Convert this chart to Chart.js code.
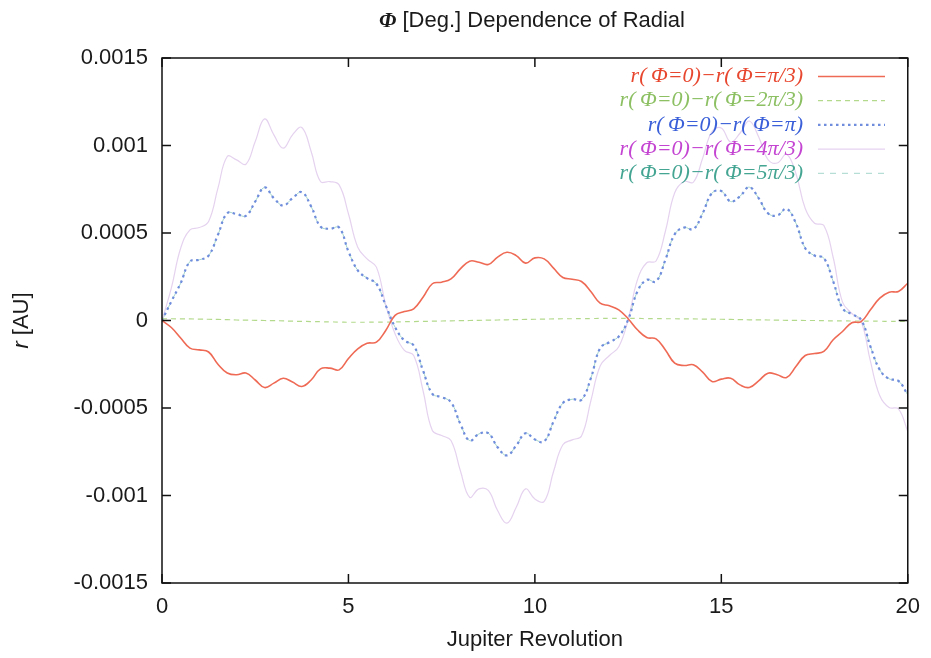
<!DOCTYPE html>
<html>
<head>
<meta charset="utf-8">
<title>Phi dependence of radial</title>
<script src="https://cdn.jsdelivr.net/npm/chart.js@4.4.1/dist/chart.umd.min.js"></script>
<style>
  body { margin: 0; background: #fff; }
  #wrap { width: 931px; height: 658px; }
</style>
</head>
<body>
<div id="wrap"><canvas id="radialChart" width="931" height="658"></canvas></div>
<script>
// Jupiter revolutions (x)
const revolutions = [
    0, 0.25, 0.5, 0.75, 1, 1.25, 1.5, 1.75, 2, 2.25, 2.5, 2.75, 3, 3.25, 3.5, 3.75,
    4, 4.25, 4.5, 4.75, 5, 5.25, 5.5, 5.75, 6, 6.25, 6.5, 6.75, 7, 7.25, 7.5, 7.75,
    8, 8.25, 8.5, 8.75, 9, 9.25, 9.5, 9.75, 10, 10.25, 10.5, 10.75, 11, 11.25, 11.5, 11.75,
    12, 12.25, 12.5, 12.75, 13, 13.25, 13.5, 13.75, 14, 14.25, 14.5, 14.75, 15, 15.25, 15.5, 15.75,
    16, 16.25, 16.5, 16.75, 17, 17.25, 17.5, 17.75, 18, 18.25, 18.5, 18.75, 19, 19.25, 19.5, 19.75, 20
];

const xTicks = [0, 5, 10, 15, 20];
const yTicks = [-0.0015, -0.001, -0.0005, 0, 0.0005, 0.001, 0.0015];
const yTickLabels = ['-0.0015', '-0.001', '-0.0005', '0', '0.0005', '0.001', '0.0015'];

const seriesLabels = [
    'r(\u2009\u03A6=0)\u2212r(\u2009\u03A6=\u03C0/3)',
    'r(\u2009\u03A6=0)\u2212r(\u2009\u03A6=2\u03C0/3)',
    'r(\u2009\u03A6=0)\u2212r(\u2009\u03A6=\u03C0)',
    'r(\u2009\u03A6=0)\u2212r(\u2009\u03A6=4\u03C0/3)',
    'r(\u2009\u03A6=0)\u2212r(\u2009\u03A6=5\u03C0/3)'
];

// r differences [AU]
const diffPi3 = [
    0, -0.00004, -0.0001, -0.000158,
    -0.000168, -0.00018, -0.00025, -0.0003,
    -0.00031, -0.0003, -0.00034, -0.000383,
    -0.000358, -0.00033, -0.000352, -0.000377,
    -0.00034, -0.000276, -0.000272, -0.000282,
    -0.000217, -0.000162, -0.00013, -0.000124,
    -0.000057, 0.000029, 0.000051, 0.000067,
    0.000133, 0.00021, 0.000219, 0.000238,
    0.000295, 0.000339, 0.000333, 0.00032,
    0.000362, 0.00039, 0.000371, 0.000328,
    0.000358, 0.000352, 0.000299, 0.000246,
    0.000236, 0.000223, 0.000166, 0.000099,
    0.000084, 0.000061, 0.00001, -0.000053,
    -0.000097, -0.000105, -0.000168, -0.000244,
    -0.000257, -0.000253, -0.000295, -0.000349,
    -0.000335, -0.00033, -0.000368, -0.000383,
    -0.000345, -0.000301, -0.00031, -0.000326,
    -0.000263, -0.0002, -0.000189, -0.000177,
    -0.00011, -0.000063, -0.000013, -0.000006,
    0.000061, 0.000128, 0.000162, 0.000166,
    0.000213
];

const diff2Pi3 = [
    0.00001, 0.00001, 0.000009, 0.000009,
    0.000008, 0.000007, 0.000006, 0.000005,
    0.000003, 0.000002, 0.000001, 0,
    -0.000001, -0.000002, -0.000004, -0.000005,
    -0.000006, -0.000007, -0.000008, -0.000009,
    -0.00001, -0.00001, -0.00001, -0.000009,
    -0.000009, -0.000008, -0.000007, -0.000006,
    -0.000005, -0.000004, -0.000003, -0.000002,
    -0.000001, 0, 0.000001, 0.000002,
    0.000003, 0.000004, 0.000005, 0.000006,
    0.000007, 0.000008, 0.000009, 0.00001,
    0.00001, 0.000011, 0.000011, 0.000012,
    0.000012, 0.000012, 0.000012, 0.000012,
    0.000011, 0.000011, 0.00001, 0.00001,
    0.000009, 0.000009, 0.000008, 0.000008,
    0.000007, 0.000006, 0.000005, 0.000004,
    0.000004, 0.000003, 0.000002, 0.000001,
    0.000001, 0, 0, -0.000001,
    -0.000002, -0.000002, -0.000003, -0.000003,
    -0.000004, -0.000004, -0.000005, -0.000005,
    -0.000006
];

const diffPi = [
    0, 0.000109, 0.000213, 0.000337,
    0.000347, 0.000371, 0.00049, 0.000613,
    0.000608, 0.000598, 0.00068, 0.00076,
    0.000699, 0.000657, 0.000699, 0.000733,
    0.000651, 0.000537, 0.000524, 0.000531,
    0.000395, 0.000286, 0.000242, 0.00021,
    0.000086, -0.000038, -0.000114, -0.000143,
    -0.000286, -0.000419, -0.000438, -0.000467,
    -0.00059, -0.000686, -0.000648, -0.000644,
    -0.000724, -0.000771, -0.000714, -0.000644,
    -0.00068, -0.000691, -0.000577, -0.000472,
    -0.00045, -0.000453, -0.00033, -0.000158,
    -0.000124, -0.000091, 0.000004, 0.000166,
    0.000232, 0.000223, 0.000347, 0.000493,
    0.000531, 0.000522, 0.000613, 0.000728,
    0.00074, 0.00068, 0.00071, 0.000762,
    0.000699, 0.000613, 0.0006, 0.000638,
    0.000556, 0.000413, 0.000371, 0.000356,
    0.000223, 0.00007, 0.000036, 0.000004,
    -0.000149, -0.000282, -0.000333, -0.000345,
    -0.000425
];

const diff4Pi3 = [
    0, 0.000185, 0.000413, 0.000518,
    0.000531, 0.000566, 0.000756, 0.000937,
    0.000918, 0.000893, 0.001023, 0.001152,
    0.001061, 0.000985, 0.001061, 0.001103,
    0.000966, 0.000794, 0.000794, 0.000775,
    0.00061, 0.000419, 0.000352, 0.000305,
    0.00009, -0.000076, -0.000171, -0.0002,
    -0.0004, -0.000629, -0.000657, -0.000686,
    -0.000857, -0.00101, -0.000962, -0.000971,
    -0.001086, -0.001158, -0.001067, -0.000962,
    -0.00102, -0.001034, -0.000863, -0.00071,
    -0.000682, -0.00066, -0.00046, -0.00026,
    -0.0002, -0.00015, 0.000004, 0.000232,
    0.00033, 0.00034, 0.00051, 0.00073,
    0.000794, 0.00079, 0.000928, 0.00108,
    0.0011, 0.00102, 0.00107, 0.00114,
    0.00105, 0.00092, 0.0009, 0.00095,
    0.00084, 0.00064, 0.000556, 0.000543,
    0.00036, 0.000105, 0.00004, -0.000006,
    -0.000234, -0.00043, -0.000497, -0.000505,
    -0.000634
];

// 5pi/3 runs on top of the pi curve in the picture
const diff5Pi3 = [
    0, 0.000109, 0.000213, 0.000337,
    0.000347, 0.000371, 0.00049, 0.000613,
    0.000608, 0.000598, 0.00068, 0.00076,
    0.000699, 0.000657, 0.000699, 0.000733,
    0.000651, 0.000537, 0.000524, 0.000531,
    0.000395, 0.000286, 0.000242, 0.00021,
    0.000086, -0.000038, -0.000114, -0.000143,
    -0.000286, -0.000419, -0.000438, -0.000467,
    -0.00059, -0.000686, -0.000648, -0.000644,
    -0.000724, -0.000771, -0.000714, -0.000644,
    -0.00068, -0.000691, -0.000577, -0.000472,
    -0.00045, -0.000453, -0.00033, -0.000158,
    -0.000124, -0.000091, 0.000004, 0.000166,
    0.000232, 0.000223, 0.000347, 0.000493,
    0.000531, 0.000522, 0.000613, 0.000728,
    0.00074, 0.00068, 0.00071, 0.000762,
    0.000699, 0.000613, 0.0006, 0.000638,
    0.000556, 0.000413, 0.000371, 0.000356,
    0.000223, 0.00007, 0.000036, 0.000004,
    -0.000149, -0.000282, -0.000333, -0.000345,
    -0.000425
];

const lineColors = ['#ef6a55', '#b3da8c', '#6f8ddc', '#e5d2ef', '#a5d6cb'];
const legendTextColors = ['#e8472f', '#8cc063', '#3a5fd8', '#c445d2', '#45a593'];
const lineDashes = [[], [5, 4], [2.5, 3.5], [], [6, 6]];
const lineWidths = [1.6, 1.2, 2.2, 1.2, 1];

function toPoints(values) {
    return values.map((v, i) => ({ x: revolutions[i], y: v }));
}

const allSeries = [diffPi3, diff2Pi3, diffPi, diff4Pi3, diff5Pi3];

const datasets = allSeries.map((values, i) => ({
    label: seriesLabels[i],
    data: toPoints(values),
    borderColor: lineColors[i],
    borderDash: lineDashes[i],
    borderWidth: lineWidths[i],
    pointRadius: 0,
    tension: 0.42,
    fill: false
}));

// Frame, inward ticks, title, y title and gnuplot-like legend
const decorPlugin = {
    id: 'decor',
    afterDraw(chart) {
        const ctx = chart.ctx;
        const a = chart.chartArea;
        const x = chart.scales.x;
        const y = chart.scales.y;
        ctx.save();

        ctx.strokeStyle = '#111';
        ctx.lineWidth = 1.5;
        ctx.setLineDash([]);
        ctx.strokeRect(a.left, a.top, a.right - a.left, a.bottom - a.top);
        ctx.beginPath();
        xTicks.forEach(v => {
            const px = x.getPixelForValue(v);
            ctx.moveTo(px, a.bottom); ctx.lineTo(px, a.bottom - 9);
            ctx.moveTo(px, a.top); ctx.lineTo(px, a.top + 9);
        });
        yTicks.forEach(v => {
            const py = y.getPixelForValue(v);
            ctx.moveTo(a.left, py); ctx.lineTo(a.left + 9, py);
            ctx.moveTo(a.right, py); ctx.lineTo(a.right - 9, py);
        });
        ctx.stroke();

        // title
        const phiFont = 'italic bold 22px "Liberation Serif"';
        const restFont = '22px "Liberation Sans"';
        const rest = ' [Deg.] Dependence of Radial';
        ctx.font = phiFont;
        const wPhi = ctx.measureText('\u03A6').width;
        ctx.font = restFont;
        const wRest = ctx.measureText(rest).width;
        const tx = 532 - (wPhi + wRest) / 2;
        ctx.fillStyle = '#1a1a1a';
        ctx.textBaseline = 'middle';
        ctx.textAlign = 'left';
        ctx.font = phiFont;
        ctx.fillText('\u03A6', tx, 21);
        ctx.font = restFont;
        ctx.fillText(rest, tx + wPhi, 21);

        // y axis title
        ctx.save();
        ctx.translate(22, (a.top + a.bottom) / 2);
        ctx.rotate(-Math.PI / 2);
        ctx.font = 'italic 22px "Liberation Sans"';
        const wr = ctx.measureText('r').width;
        ctx.font = '22px "Liberation Sans"';
        const wAu = ctx.measureText(' [AU]').width;
        ctx.font = 'italic 22px "Liberation Sans"';
        ctx.fillText('r', -(wr + wAu) / 2, 0);
        ctx.font = '22px "Liberation Sans"';
        ctx.fillText(' [AU]', -(wr + wAu) / 2 + wr, 0);
        ctx.restore();

        // legend
        ctx.font = 'italic 22px "Liberation Serif"';
        ctx.textAlign = 'right';
        chart.data.datasets.forEach((ds, i) => {
            const ly = 76.5 + i * 24.2;
            ctx.fillStyle = legendTextColors[i];
            ctx.fillText(ds.label, 803, ly);
            ctx.beginPath();
            ctx.strokeStyle = ds.borderColor;
            ctx.lineWidth = ds.borderWidth;
            ctx.setLineDash(ds.borderDash);
            ctx.moveTo(818, ly);
            ctx.lineTo(885, ly);
            ctx.stroke();
        });
        ctx.restore();
    }
};

Chart.defaults.font.family = '"Liberation Sans", Arial, sans-serif';
Chart.defaults.color = '#1a1a1a';

const ctx = document.getElementById('radialChart').getContext('2d');
new Chart(ctx, {
    type: 'line',
    data: { datasets: datasets },
    options: {
        responsive: false,
        animation: false,
        layout: { padding: { top: 58, right: 20, left: 0, bottom: 0 } },
        plugins: {
            legend: { display: false },
            tooltip: { enabled: false },
            title: { display: false }
        },
        scales: {
            x: {
                type: 'linear',
                min: 0,
                max: 20,
                afterBuildTicks: s => { s.ticks = xTicks.map(v => ({ value: v })); },
                afterFit: s => { s.height = 75; },
                grid: { display: false, drawTicks: false },
                border: { display: false },
                ticks: { font: { size: 22 }, padding: 11, maxRotation: 0 },
                title: {
                    display: true,
                    text: 'Jupiter Revolution',
                    font: { size: 22 },
                    padding: { top: 0, bottom: 5 }
                }
            },
            y: {
                type: 'linear',
                min: -0.0015,
                max: 0.0015,
                afterBuildTicks: s => { s.ticks = yTicks.map(v => ({ value: v })); },
                afterFit: s => { s.width = 162; },
                grid: { display: false, drawTicks: false },
                border: { display: false },
                ticks: {
                    font: { size: 22 },
                    padding: 14,
                    callback: (value, index) => yTickLabels[index]
                }
            }
        }
    },
    plugins: [decorPlugin]
});
</script>
</body>
</html>
